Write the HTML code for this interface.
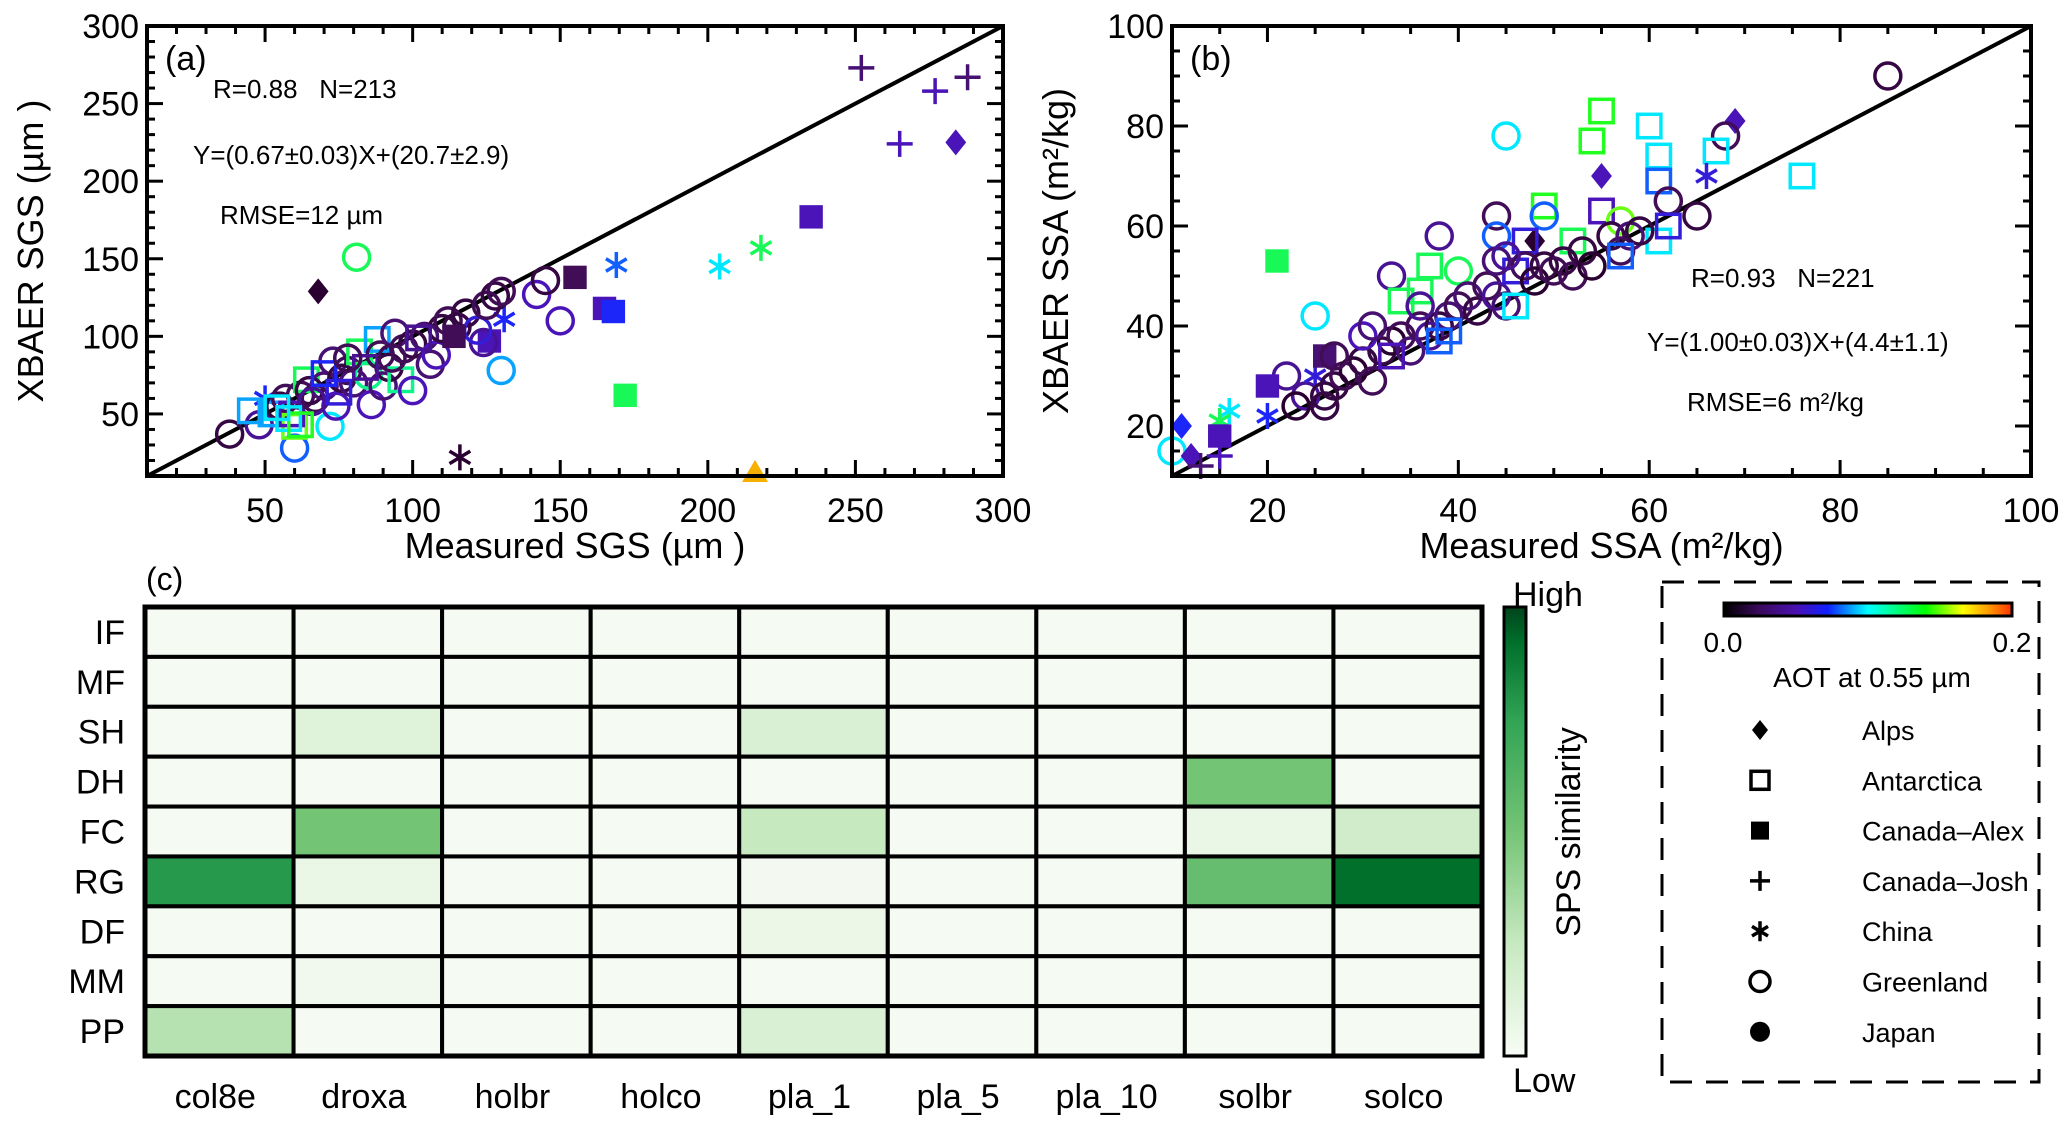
<!DOCTYPE html>
<html><head><meta charset="utf-8"><style>
html,body{margin:0;padding:0;background:#fff;}
svg{display:block;font-family:"Liberation Sans",sans-serif;}
</style></head><body>
<svg id="fig" width="2067" height="1136" viewBox="0 0 2067 1136" xmlns="http://www.w3.org/2000/svg">
<defs>
<linearGradient id="aotGrad" x1="0" x2="1" y1="0" y2="0">
<stop offset="0" stop-color="#000000"/><stop offset="0.12" stop-color="#3a0a5a"/><stop offset="0.25" stop-color="#4a10b0"/><stop offset="0.36" stop-color="#1020ff"/><stop offset="0.5" stop-color="#00ffff"/><stop offset="0.7" stop-color="#00ff00"/><stop offset="0.83" stop-color="#ffff00"/><stop offset="0.92" stop-color="#ff9900"/><stop offset="1" stop-color="#ff3300"/>
</linearGradient>
<linearGradient id="spsGrad" x1="0" x2="0" y1="1" y2="0">
<stop offset="0" stop-color="#f7fcf5"/><stop offset="0.25" stop-color="#c7e9c0"/><stop offset="0.5" stop-color="#74c476"/><stop offset="0.75" stop-color="#31a354"/><stop offset="0.92" stop-color="#00702b"/><stop offset="1" stop-color="#00441b"/>
</linearGradient>
</defs>
<g id="panelA"></g>
<g id="panelB"></g>
<g id="panelC"></g>
<g id="legend">
<rect x="1662" y="582" width="377" height="500" fill="none" stroke="#000" stroke-width="3" stroke-dasharray="22,14"/>
<rect x="1724" y="603" width="288" height="13" fill="url(#aotGrad)" stroke="#000" stroke-width="3"/>
<text x="1723" y="652" font-size="28" text-anchor="middle">0.0</text>
<text x="2012" y="652" font-size="28" text-anchor="middle">0.2</text>
<text x="1872" y="687" font-size="28" text-anchor="middle">AOT at 0.55 µm</text>
</g>
</svg>
<script>
// ---------- Panel (a) data: SGS ----------
const aX = [252,277,288,265,284,235,218,204,169,155,165,168,172,116,216,68,81,130,150,142,145,131,126,124,
38,48,50,45,52,55,57,60,60,59,62,64,65,67,70,72,73,74,76,78,80,82,85,86,88,89,90,92,94,96,97,100,100,104,106,108,110,112,115,118,122,125,128,130,66,75,84,93,102,114,58,62,54,70,78];
const aY = [273,258,267,224,225,177,157,145,146,138,118,116,62,22,12,129,151,78,110,127,136,111,97,96,
37,43,60,52,50,55,60,28,42,50,62,72,65,60,68,42,84,55,73,78,70,90,75,56,98,88,68,80,102,72,92,65,95,100,82,88,105,110,106,115,104,120,126,129,58,64,80,86,99,100,47,43,54,76,86];
const aC = [0.03,0.05,0.03,0.05,0.05,0.05,0.13,0.10,0.08,0.02,0.05,0.07,0.13,0,0.18,0,0.13,0.09,0.05,0.05,0.01,0.07,0.05,0.04,
0.01,0.04,0.07,0.09,0.09,0.01,0.02,0.08,0.15,0.05,0.02,0.13,0.01,0.02,0.03,0.10,0.03,0.05,0.01,0.02,0.03,0.13,0.12,0.05,0.09,0.02,0.03,0.01,0.03,0.12,0.02,0.05,0.01,0.03,0.03,0.05,0.01,0.02,0.01,0.01,0.06,0.02,0.01,0.02,0.04,0.06,0.04,0.02,0.04,0.02,0.10,0.14,0.10,0.07,0.02];
const aS = ['+','+','+','+','D','S','*','*','*','S','S','S','S','*','t','D','o','o','o','o','o','*','S','o',
'o','o','*','s','s','o','o','o','s','s','o','s','o','o','o','o','o','o','o','o','o','s','o','o','s','o','o','o','o','s','o','o','o','o','o','o','o','o','o','o','o','o','o','o','o','s','s','o','s','S','s','s','s','s','o'];
// ---------- Panel (b) data: SSA ----------
const bX = [85,69,68,67,76,66,60,61,55,54,55,45,61,62,65,61,62,21,49,49,48,44,38,44,47,52,55,57,40,37,33,36,34,25,22,20,24,25,20,16,15,15,11,10,12,13,15,26,
23,26,27,28,29,30,31,32,33,34,35,36,37,38,39,38,40,41,42,43,44,45,46,46,47,48,49,50,51,52,53,54,56,57,58,59,57,30,31,36,39,44,45,27,26,33];
const bY = [90,81,78,75,70,70,80,74,83,77,70,78,69,65,62,57,60,53,64,62,57,62,58,58,57,57,63,61,51,52,50,47,45,42,30,28,26,30,22,23,21,18,20,15,14,12,14,34,
24,26,28,30,31,33,29,35,37,38,35,40,38,40,42,37,44,46,43,48,46,44,51,44,52,49,52,51,53,50,55,52,58,55,58,59,54,38,40,44,39,53,54,34,24,34];
const bC = [0.01,0.05,0.02,0.10,0.10,0.06,0.10,0.10,0.14,0.14,0.05,0.10,0.08,0.02,0.01,0.10,0.06,0.13,0.14,0.08,0,0.02,0.04,0.08,0.06,0.13,0.05,0.15,0.13,0.13,0.04,0.13,0.13,0.10,0.04,0.05,0.04,0.06,0.07,0.10,0.13,0.05,0.07,0.10,0.05,0.03,0.05,0.03,
0,0.01,0.01,0.02,0,0.01,0.02,0.01,0,0.02,0.03,0.02,0.04,0.01,0.03,0.08,0.02,0.03,0.01,0.02,0.04,0.03,0.06,0.10,0.02,0,0.01,0.02,0.01,0.02,0.01,0,0.01,0.02,0.03,0.01,0.08,0.05,0.03,0.04,0.08,0.03,0.04,0.02,0.01,0.05];
const bS = ['o','D','o','s','s','*','s','s','s','s','D','o','s','o','o','s','s','S','s','o','D','o','o','o','s','s','s','o','o','s','o','s','s','o','o','S','o','*','*','*','*','S','D','o','D','+','+','S',
'o','o','o','o','o','o','o','o','o','o','o','o','o','o','o','s','o','o','o','o','o','o','s','s','o','o','o','o','o','o','o','o','o','o','o','o','s','o','o','o','s','o','o','o','o','s'];
// ---------- Panel (c) data: heatmap ----------
const rowLabels = ['IF','MF','SH','DH','FC','RG','DF','MM','PP'];
const colLabels = ['col8e','droxa','holbr','holco','pla_1','pla_5','pla_10','solbr','solco'];
const spsValues = [
[0,0,0,0,0,0,0,0,0],
[0,0,0,0,0,0,0,0,0],
[0,0.12,0,0,0.15,0,0,0,0],
[0,0,0,0,0,0,0,0.5,0],
[0,0.5,0,0,0.25,0,0,0.06,0.2],
[0.8,0.06,0,0,0.01,0,0,0.55,1.0],
[0,0,0,0,0.05,0,0,0,0],
[0,0.02,0,0,0,0,0,0,0],
[0.3,0,0,0,0.15,0,0,0,0]];
const legendNames = ['Alps','Antarctica','Canada–Alex','Canada–Josh','China','Greenland','Japan'];
const legendShapes = ['D','s','S','+','*','o','O'];

const NS='http://www.w3.org/2000/svg';
function mk(tag, attrs, parent){const e=document.createElementNS(NS,tag);for(const k in attrs)e.setAttribute(k,attrs[k]);parent.appendChild(e);return e;}
function lerp(a,b,t){return a+(b-a)*t;}
function hex(c){return [parseInt(c.slice(1,3),16),parseInt(c.slice(3,5),16),parseInt(c.slice(5,7),16)];}
function ramp(stops,t){t=Math.max(0,Math.min(1,t));for(let i=1;i<stops.length;i++){if(t<=stops[i][0]){const a=stops[i-1],b=stops[i];const f=(t-a[0])/(b[0]-a[0]);const A=hex(a[1]),B=hex(b[1]);return 'rgb('+A.map((v,j)=>Math.round(lerp(v,B[j],f))).join(',')+')';}}return stops[stops.length-1][1];}
const aotStops=[[0,'#2a0030'],[0.12,'#45105e'],[0.25,'#4a14b8'],[0.36,'#1828ff'],[0.5,'#00e8ff'],[0.7,'#20ff20'],[0.83,'#e0ff00'],[0.92,'#ff9900'],[1,'#ff3300']];
const greenStops=[[0,'#f5faf2'],[0.25,'#c7e9c0'],[0.5,'#74c476'],[0.75,'#31a354'],[1,'#00702b']];

function marker(g,shape,cx,cy,col,s){
  let e;
  if(shape==='o'){e=mk('circle',{cx:cx,cy:cy,r:s,fill:'none',stroke:col,'stroke-width':3.5},g);}
  else if(shape==='O'){e=mk('circle',{cx:cx,cy:cy,r:s,fill:col},g);}
  else if(shape==='s'){e=mk('rect',{x:cx-s*0.9,y:cy-s*0.9,width:s*1.8,height:s*1.8,fill:'none',stroke:col,'stroke-width':3.5},g);}
  else if(shape==='S'){e=mk('rect',{x:cx-s*0.9,y:cy-s*0.9,width:s*1.8,height:s*1.8,fill:col},g);}
  else if(shape==='D'){e=mk('polygon',{points:`${cx},${cy-s} ${cx+s*0.8},${cy} ${cx},${cy+s} ${cx-s*0.8},${cy}`,fill:col},g);}
  else if(shape==='t'){e=mk('polygon',{points:`${cx},${cy-s} ${cx+s},${cy+s*0.7} ${cx-s},${cy+s*0.7}`,fill:col},g);}
  else if(shape==='+'){e=mk('path',{d:`M${cx-s} ${cy}H${cx+s}M${cx} ${cy-s}V${cy+s}`,stroke:col,'stroke-width':3.5,fill:'none'},g);}
  else {const d=s*0.8;e=mk('path',{d:`M${cx} ${cy-s}V${cy+s}M${cx-d} ${cy-d*0.6}L${cx+d} ${cy+d*0.6}M${cx-d} ${cy+d*0.6}L${cx+d} ${cy-d*0.6}`,stroke:col,'stroke-width':3.5,fill:'none'},g);}
  return e;
}

function scatter(gid,box,xmin,xmax,ymin,ymax,major,minor,X,Y,C,S,xt,yt,tag,notes){
  const g=document.getElementById(gid);
  const sx=v=>box.l+(v-xmin)/(xmax-xmin)*(box.r-box.l);
  const sy=v=>box.b-(v-ymin)/(ymax-ymin)*(box.b-box.t);
  for(let v=Math.ceil(xmin/minor)*minor; v<=xmax; v+=minor){
    const isM=v%major===0, L=isM?16:8, x=sx(v);
    const t1=mk('line',{x1:x,x2:x,y1:box.b,y2:box.b-L,stroke:'#000','stroke-width':3},g);
    
    
    mk('line',{x1:x,x2:x,y1:box.t,y2:box.t+L,stroke:'#000','stroke-width':3},g);
    if(isM){const tl=mk('text',{x:x,y:box.b+46,'font-size':34,'text-anchor':'middle'},g);tl.textContent=v;
      
      }
  }
  for(let v=Math.ceil(ymin/minor)*minor; v<=ymax; v+=minor){
    const isM=v%major===0, L=isM?16:8, y=sy(v);
    const t1=mk('line',{x1:box.l,x2:box.l+L,y1:y,y2:y,stroke:'#000','stroke-width':3},g);
    
    
    mk('line',{x1:box.r,x2:box.r-L,y1:y,y2:y,stroke:'#000','stroke-width':3},g);
    if(isM){const tl=mk('text',{x:box.l-8,y:y+12,'font-size':34,'text-anchor':'end'},g);tl.textContent=v;
      
      }
  }
  const lo=Math.max(xmin,ymin), hi=Math.min(xmax,ymax);
  const dl=mk('line',{x1:sx(lo),y1:sy(lo),x2:sx(hi),y2:sy(hi),stroke:'#000','stroke-width':4},g);
  
  
  const pg=mk('g',{},g);
  
  
  for(let i=0;i<X.length;i++){
    const m=marker(pg,S[i],sx(X[i]),sy(Y[i]),ramp(aotStops,C[i]/0.2),13);
    
    
  }
  const fr=mk('rect',{x:box.l,y:box.t,width:box.r-box.l,height:box.b-box.t,fill:'none',stroke:'#000','stroke-width':4},g);
  
  
  const xtl=mk('text',{x:(box.l+box.r)/2,y:box.b+82,'font-size':36,'text-anchor':'middle'},g);xtl.textContent=xt;
  
  
  const cy=(box.t+box.b)/2;
  const ytl=mk('text',{x:box.l-104,y:cy,'font-size':36,'text-anchor':'middle',transform:`rotate(-90 ${box.l-104} ${cy})`},g);ytl.innerHTML=yt;
  
  
  const tg=mk('text',{x:box.l+18,y:box.t+44,'font-size':34},g);tg.textContent=tag;
  
  
  notes.forEach(n=>{const t=mk('text',{x:n[0],y:n[1],'font-size':26},g);t.innerHTML=n[2];
    
    });
}

scatter('panelA',{l:147,r:1003,t:26,b:476},10,300,10,300,50,10,aX,aY,aC,aS,'Measured SGS (µm )','XBAER SGS (µm )','(a)',
 [[213,98,'R=0.88&#160;&#160;&#160;N=213'],[193,164,'Y=(0.67±0.03)X+(20.7±2.9)'],[220,224,'RMSE=12 µm']]);
scatter('panelB',{l:1172,r:2031,t:26,b:476},10,100,10,100,20,5,bX,bY,bC,bS,'Measured SSA (m²/kg)','XBAER SSA (m²/kg)','(b)',
 [[1691,287,'R=0.93&#160;&#160;&#160;N=221'],[1647,351,'Y=(1.00±0.03)X+(4.4±1.1)'],[1687,411,'RMSE=6 m²/kg']]);

(function(){
  const g=document.getElementById('panelC');
  const L=145,R=1482,T=607,B=1056, cw=(R-L)/colLabels.length, ch=(B-T)/rowLabels.length;
  for(let r=0;r<rowLabels.length;r++){
    for(let c=0;c<colLabels.length;c++){
      const cell=mk('rect',{x:L+c*cw,y:T+r*ch,width:cw,height:ch,fill:ramp(greenStops,spsValues[r][c]),stroke:'#000','stroke-width':4},g);
      
      
    }
    const rl=mk('text',{x:125,y:T+r*ch+ch/2+12,'font-size':34,'text-anchor':'end'},g);rl.textContent=rowLabels[r];
    
    
  }
  for(let c=0;c<colLabels.length;c++){
    const cl=mk('text',{x:L+c*cw+cw/2-4,y:1108,'font-size':34,'text-anchor':'middle'},g);cl.textContent=colLabels[c];
    
    
  }
  const fr=mk('rect',{x:L,y:T,width:R-L,height:B-T,fill:'none',stroke:'#000','stroke-width':5},g);
  
  
  const pc=mk('text',{x:146,y:590,'font-size':32},g);pc.textContent='(c)';
  
  
  const cb=mk('rect',{x:1504,y:607,width:22,height:449,fill:'url(#spsGrad)',stroke:'#000','stroke-width':3},g);
  
  
  const hi=mk('text',{x:1513,y:606,'font-size':34},g);hi.textContent='High';
  
  
  const lo=mk('text',{x:1513,y:1092,'font-size':34},g);lo.textContent='Low';
  
  
  const st=mk('text',{x:1580,y:832,'font-size':34,'text-anchor':'middle',transform:'rotate(-90 1580 832)'},g);st.textContent='SPS similarity';
  
  
})();

(function(){
  const g=document.getElementById('legend');
  for(let i=0;i<legendNames.length;i++){
    const y=730+i*50.3;
    const m=marker(g,legendShapes[i],1760,y,'#000',10);
    
    
    const t=mk('text',{x:1862,y:y+10,'font-size':27},g);t.textContent=legendNames[i];
    
    
  }
})();
</script>
</body></html>
